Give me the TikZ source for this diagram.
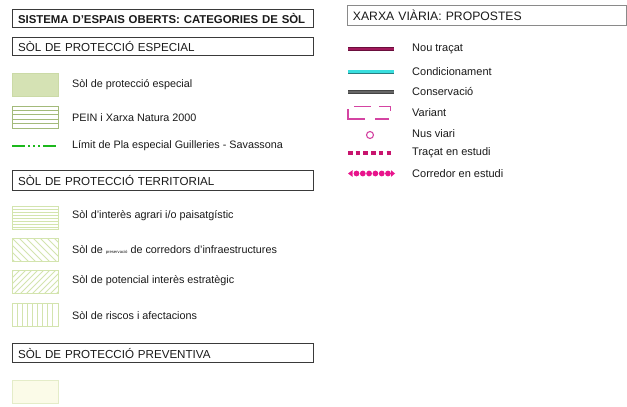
\documentclass[tikz,border=0pt]{standalone}
\usepackage{fontspec}
\usetikzlibrary{calc}
\setmainfont{Liberation Sans}
\definecolor{txt}{HTML}{1A1A1A}
\definecolor{boxline}{HTML}{3A3A3A}
\definecolor{rboxline}{HTML}{8A8A8A}
\definecolor{espfill}{HTML}{D5E2B4}
\definecolor{espline}{HTML}{CBDAA6}
\definecolor{peinline}{HTML}{A3BA7A}
\definecolor{paleline}{HTML}{D3E4AE}
\definecolor{prevfill}{HTML}{FBFBE8}
\definecolor{prevline}{HTML}{E4ECC8}
\definecolor{limgreen}{HTML}{1CB81C}
\definecolor{nouout}{HTML}{6A0E3C}
\definecolor{nouin}{HTML}{A21A5C}
\definecolor{condout}{HTML}{2B7C80}
\definecolor{condin}{HTML}{38DEDE}
\definecolor{consout}{HTML}{444444}
\definecolor{consin}{HTML}{666666}
\definecolor{varpink}{HTML}{D444A2}
\definecolor{estpink}{HTML}{C8146E}
\definecolor{corpink}{HTML}{E8148C}
\begin{document}
\begin{tikzpicture}[x=1pt,y=-1pt,
  hdr/.style={draw=boxline, line width=1.1pt, anchor=north west, minimum height=18pt,
    inner xsep=5.5pt, inner ysep=0pt, align=left, text=txt, font=\fontsize{11.6}{12}\selectfont},
  rhdr/.style={hdr, draw=rboxline, line width=0.9pt, font=\fontsize{12.2}{13}\selectfont},
  swatch/.style={anchor=north west, minimum width=46pt, minimum height=23pt, inner sep=0pt},
  lbl/.style={anchor=west, inner sep=0pt, text=txt, font=\fontsize{10.8}{12}\selectfont},
  rlbl/.style={anchor=west, inner sep=0pt, text=txt, font=\fontsize{11}{12}\selectfont},
  hatch/.style={paleline, line width=0.8pt},
]
\useasboundingbox[fill=white] (0,0) rectangle (627,407);

% ---------- left column ----------
\node[hdr, text width=290pt, minimum height=18pt, font=\bfseries\fontsize{11.4}{12}\selectfont] (title) at (12,9) {SISTEMA D'ESPAIS OBERTS: CATEGORIES DE SÒL};
\node[hdr, text width=290pt] (hesp) at (12,37) {SÒL DE PROTECCIÓ ESPECIAL};

\node[swatch, fill=espfill, draw=espline, line width=0.6pt] (s1) at (12,73) {};
\node[lbl] (l1) at (72,85) {Sòl de protecció especial};

\node[swatch, minimum height=22pt] (s2) at (12,106) {};
\foreach \yy in {4.4,8.8,13.2,17.6}
  \draw[peinline, line width=0.8pt] ($(s2.north west)+(0,\yy)$) -- ++(46,0);
\draw[peinline, line width=0.9pt] (s2.north west) rectangle (s2.south east);
\node[lbl] (l2) at (72,118) {PEIN i Xarxa Natura 2000};

\coordinate (g1) at (12,146);
\coordinate (g2) at (58,146);
\draw[limgreen, line width=2.5pt, dash pattern=on 13pt off 3pt on 1.5pt off 3.5pt on 1.5pt off 3.5pt on 1.5pt off 3.5pt] (g1) -- (g2);
\node[lbl] (l3) at (72,146) {Límit de Pla especial Guilleries - Savassona};

\node[hdr, text width=290pt, minimum height=20pt] (hter) at (12,169.5) {SÒL DE PROTECCIÓ TERRITORIAL};

% horizontal lines
\node[swatch] (t1) at (12,206) {};
\foreach \yy in {3,6,...,21}
  \draw[hatch, line width=0.7pt] ($(t1.north west)+(0,\yy)$) -- ++(46,0);
\draw[hatch] (t1.north west) rectangle (t1.south east);
\node[lbl] (m1) at (72,216) {Sòl d'interès agrari i/o paisatgístic};

% diagonal \\\
\node[swatch] (t2) at (12,238) {};
\begin{scope}
  \clip (t2.north west) rectangle (t2.south east);
  \foreach \xx in {-28,-21,...,49}
    \draw[hatch] ($(t2.north west)+(\xx,0)$) -- ++(24,24);
\end{scope}
\draw[hatch] (t2.north west) rectangle (t2.south east);
\node[lbl] (m2) at (72,249.5) {Sòl de {\fontsize{4.2}{5}\selectfont preservació} de corredors d'infraestructures};

% diagonal ///
\node[swatch] (t3) at (12,270) {};
\begin{scope}
  \clip (t3.north west) rectangle (t3.south east);
  \foreach \xx in {-4,2,...,72}
    \draw[hatch] ($(t3.north west)+(\xx,0)$) -- ++(-24,24);
\end{scope}
\draw[hatch] (t3.north west) rectangle (t3.south east);
\node[lbl] (m3) at (72,281) {Sòl de potencial interès estratègic};

% vertical lines
\node[swatch] (t4) at (12,303) {};
\foreach \xx in {5.1,10.2,...,42}
  \draw[hatch, line width=0.7pt] ($(t4.north west)+(\xx,0)$) -- ++(0,23);
\draw[hatch] (t4.north west) rectangle (t4.south east);
\node[lbl] (m4) at (72,316) {Sòl de riscos i afectacions};

\node[hdr, text width=290pt, minimum height=19pt] (hprev) at (12,343) {SÒL DE PROTECCIÓ PREVENTIVA};
\node[swatch, fill=prevfill, draw=prevline, line width=0.8pt] (p1) at (12,379.5) {};

% ---------- right column ----------
\node[rhdr, text width=267.5pt, minimum height=20pt, inner xsep=5.5pt] (hxar) at (347,5) {XARXA VIÀRIA: PROPOSTES};

% Nou tracat
\coordinate (a1) at (348,49); \coordinate (a2) at (394,49);
\draw[nouout, line width=4pt] (a1) -- (a2);
\draw[nouin, line width=2.2pt] (a1) -- (a2);
\node[rlbl] (r1) at (412,49) {Nou traçat};

% Condicionament
\coordinate (b1) at (348,71.5); \coordinate (b2) at (394,71.5);
\draw[condout, line width=4pt] (b1) -- (b2);
\draw[condin, line width=2.4pt] (b1) -- (b2);
\node[rlbl] (r2) at (412,71.5) {Condicionament};

% Conservacio
\coordinate (c1) at (348,92); \coordinate (c2) at (394,92);
\draw[consout, line width=4pt] (c1) -- (c2);
\draw[consin, line width=2.4pt] (c1) -- (c2);
\node[rlbl] (r3) at (412,92) {Conservació};

% Variant
\begin{scope}[varpink, line width=1.3pt]
  \draw (354,106.5) -- (371,106.5);
  \draw (379,106.5) -- (390.5,106.5) -- (390.5,111);
  \draw (348,109) -- (348,119) -- (365,119);
  \draw (375,119) -- (389,119);
\end{scope}
\node[rlbl] (r4) at (412,113) {Variant};

% Nus viari
\node[draw=varpink, line width=1.1pt, circle, minimum size=7pt, inner sep=0pt] (nus) at (370,135) {};
\node[rlbl] (r5) at (412,134) {Nus viari};

% Tracat en estudi
\coordinate (d1) at (348,153); \coordinate (d2) at (392,153);
\draw[estpink, line width=4.2pt, dash pattern=on 4.6pt off 3.1pt] (d1) -- (d2);
\node[rlbl] (r6) at (412,153) {Traçat en estudi};

% Corredor en estudi
\begin{scope}[corpink]
  \fill (348,173.5) -- (352.5,170.2) -- (352.5,176.8) -- cycle;
  \foreach \xx in {356.5,362.8,369.1,375.4,381.7,388} \fill (\xx,173.5) circle (2.9pt);
  \fill (395,173.5) -- (391,170.2) -- (391,176.8) -- cycle;
\end{scope}
\node[rlbl] (r7) at (412,174) {Corredor en estudi};
\end{tikzpicture}
\end{document}
